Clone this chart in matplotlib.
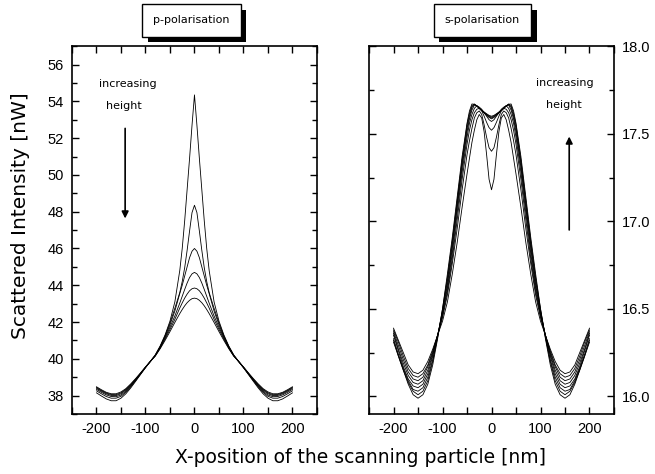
import matplotlib
matplotlib.use('Agg')
import matplotlib.pyplot as plt
import matplotlib.patheffects as pe
from matplotlib.ticker import MultipleLocator
import numpy as np

plt.rcParams['font.family'] = ['Liberation Sans', 'DejaVu Sans']
plt.rcParams['axes.unicode_minus'] = False

# half profiles (x >= 0), curves are symmetric about x = 0
x_p = [0, 5, 10, 15, 20, 25, 30, 40, 50, 60, 70, 80, 90, 100, 110, 120,
       130, 140, 150, 160, 170, 180, 190, 200]
p_curves = [
    [54.35, 52.70, 50.90, 49.20, 47.50, 46.00, 44.80, 43.10, 42.05, 41.30, 40.70, 40.22,
     39.86, 39.52, 39.15, 38.78, 38.42, 38.10, 37.86, 37.72, 37.72, 37.82, 37.98, 38.15],
    [48.35, 47.95, 46.95, 45.90, 44.95, 44.20, 43.60, 42.75, 41.95, 41.25, 40.68, 40.20,
     39.86, 39.52, 39.17, 38.82, 38.48, 38.18, 37.96, 37.86, 37.86, 37.95, 38.10, 38.26],
    [46.00, 45.85, 45.50, 45.00, 44.50, 44.00, 43.55, 42.60, 41.85, 41.20, 40.64, 40.18,
     39.86, 39.53, 39.19, 38.85, 38.52, 38.24, 38.03, 37.94, 37.95, 38.04, 38.18, 38.34],
    [44.70, 44.62, 44.42, 44.12, 43.77, 43.40, 43.03, 42.33, 41.72, 41.14, 40.61, 40.17,
     39.86, 39.54, 39.20, 38.87, 38.56, 38.30, 38.10, 38.00, 38.01, 38.10, 38.24, 38.40],
    [43.85, 43.81, 43.70, 43.52, 43.30, 43.04, 42.76, 42.15, 41.60, 41.08, 40.58, 40.16,
     39.86, 39.55, 39.22, 38.90, 38.60, 38.34, 38.15, 38.05, 38.06, 38.14, 38.28, 38.44],
    [43.30, 43.27, 43.18, 43.05, 42.88, 42.68, 42.46, 41.98, 41.48, 41.00, 40.55, 40.15,
     39.86, 39.56, 39.24, 38.93, 38.64, 38.38, 38.20, 38.10, 38.10, 38.18, 38.32, 38.48],
]

x_s = [0, 5, 10, 15, 20, 25, 30, 35, 40, 45, 50, 60, 70, 80, 90, 100, 110, 120,
       130, 140, 150, 160, 170, 180, 190, 200]
s_curves = [
    [17.18, 17.24, 17.38, 17.51, 17.59, 17.61, 17.58, 17.52, 17.45, 17.36, 17.27, 17.08, 16.88,
     16.70, 16.54, 16.43, 16.35, 16.27, 16.20, 16.15, 16.13, 16.14, 16.18, 16.25, 16.32, 16.39],
    [17.40, 17.42, 17.48, 17.55, 17.61, 17.63, 17.62, 17.59, 17.53, 17.46, 17.38, 17.18, 16.96,
     16.76, 16.58, 16.45, 16.35, 16.26, 16.18, 16.13, 16.11, 16.12, 16.16, 16.23, 16.31, 16.38],
    [17.52, 17.535, 17.565, 17.60, 17.63, 17.645, 17.64, 17.62, 17.58, 17.52, 17.44, 17.24, 17.01,
     16.79, 16.60, 16.46, 16.35, 16.25, 16.17, 16.11, 16.09, 16.10, 16.14, 16.21, 16.29, 16.37],
    [17.57, 17.58, 17.60, 17.62, 17.64, 17.652, 17.66, 17.645, 17.61, 17.56, 17.48, 17.28, 17.05,
     16.82, 16.62, 16.47, 16.35, 16.24, 16.15, 16.09, 16.07, 16.08, 16.12, 16.19, 16.27, 16.36],
    [17.585, 17.593, 17.605, 17.618, 17.632, 17.646, 17.66, 17.664, 17.635, 17.585, 17.51, 17.31, 17.08,
     16.85, 16.64, 16.48, 16.35, 16.23, 16.13, 16.07, 16.05, 16.06, 16.10, 16.17, 16.26, 16.35],
    [17.59, 17.597, 17.608, 17.62, 17.633, 17.646, 17.66, 17.668, 17.65, 17.60, 17.53, 17.33, 17.10,
     16.87, 16.66, 16.49, 16.34, 16.21, 16.11, 16.05, 16.03, 16.04, 16.09, 16.16, 16.24, 16.33],
    [17.595, 17.601, 17.611, 17.622, 17.634, 17.646, 17.658, 17.67, 17.66, 17.615, 17.55, 17.35, 17.12,
     16.89, 16.68, 16.50, 16.34, 16.20, 16.09, 16.03, 16.01, 16.03, 16.08, 16.15, 16.23, 16.32],
    [17.60, 17.605, 17.614, 17.624, 17.635, 17.646, 17.657, 17.668, 17.67, 17.63, 17.56, 17.37, 17.14,
     16.91, 16.70, 16.50, 16.33, 16.18, 16.07, 16.01, 15.99, 16.01, 16.07, 16.15, 16.23, 16.31],
]

SMALL = dict(family=['DejaVu Sans'], fontsize=8)


def mirror(xh, yh):
    xh = np.asarray(xh, float)
    yh = np.asarray(yh, float)
    return np.concatenate([-xh[::-1], xh[1:]]), np.concatenate([yh[::-1], yh[1:]])


def style_axes(ax):
    for s in ax.spines.values():
        s.set_linewidth(1.2)
    ax.xaxis.set_major_locator(MultipleLocator(100))
    ax.xaxis.set_minor_locator(MultipleLocator(50))
    ax.tick_params(which='both', direction='in', top=True, right=True, width=1.0,
                   labelsize=10.5, pad=6)
    ax.tick_params(which='major', length=5)
    ax.tick_params(which='minor', length=3.5)
    ax.tick_params(axis='x', which='minor', top=True, length=5)
    for lab in ax.get_xticklabels() + ax.get_yticklabels():
        lab.set_family('Liberation Sans')
    ax.set_xlim(-250, 250)


def title_box(x, y, txt):
    t = fig.text(x, y, txt, ha='center', va='center', **SMALL,
                 bbox=dict(boxstyle='square,pad=1.0', fc='white', ec='black', lw=1.0))
    t.get_bbox_patch().set_path_effects([
        pe.SimplePatchShadow(offset=(4, -4), shadow_rgbFace='black', alpha=1.0),
        pe.Normal()])


fig = plt.figure(figsize=(6.55, 4.74), dpi=100)
ax1 = fig.add_axes([0.1099, 0.1266, 0.374, 0.776])
ax2 = fig.add_axes([0.5634, 0.1266, 0.374, 0.776])

for c in p_curves:
    xx, yy = mirror(x_p, c)
    ax1.plot(xx, yy, color='black', lw=0.6)
ax1.set_ylim(37, 57)
ax1.yaxis.set_major_locator(MultipleLocator(2))
ax1.yaxis.set_minor_locator(MultipleLocator(1))
style_axes(ax1)
ax1.text(-136, 54.97, 'increasing', ha='center', va='center', **SMALL)
ax1.text(-144, 53.77, 'height', ha='center', va='center', **SMALL)
ax1.annotate('', xy=(-141.5, 47.48), xytext=(-141.5, 52.68),
             arrowprops=dict(arrowstyle='-|>', color='black', lw=1.2, mutation_scale=10))

for c in s_curves:
    xx, yy = mirror(x_s, c)
    ax2.plot(xx, yy, color='black', lw=0.6)
ax2.set_ylim(15.9, 18.0)
ax2.yaxis.set_major_locator(MultipleLocator(0.5))
ax2.yaxis.set_minor_locator(MultipleLocator(0.25))
ax2.yaxis.set_major_formatter(matplotlib.ticker.FormatStrFormatter('%.1f'))
ax2.tick_params(axis='y', which='both', labelleft=False, labelright=True)
style_axes(ax2)
ax2.text(150, 17.787, 'increasing', ha='center', va='center', **SMALL)
ax2.text(148, 17.663, 'height', ha='center', va='center', **SMALL)
ax2.annotate('', xy=(158.6, 17.50), xytext=(158.6, 16.935),
             arrowprops=dict(arrowstyle='-|>', color='black', lw=1.2, mutation_scale=10))

title_box(0.2924, 0.9568, 'p-polarisation')
title_box(0.7366, 0.9568, 's-polarisation')

fig.text(0.031, 0.546, 'Scattered Intensity [nW]', rotation=90, ha='center', va='center',
         family=['DejaVu Sans'], fontsize=14.5)
fig.text(0.551, 0.034, 'X-position of the scanning particle [nm]', ha='center', va='center',
         family=['DejaVu Sans'], fontsize=13.5)

fig.savefig('out.png', dpi=100)
